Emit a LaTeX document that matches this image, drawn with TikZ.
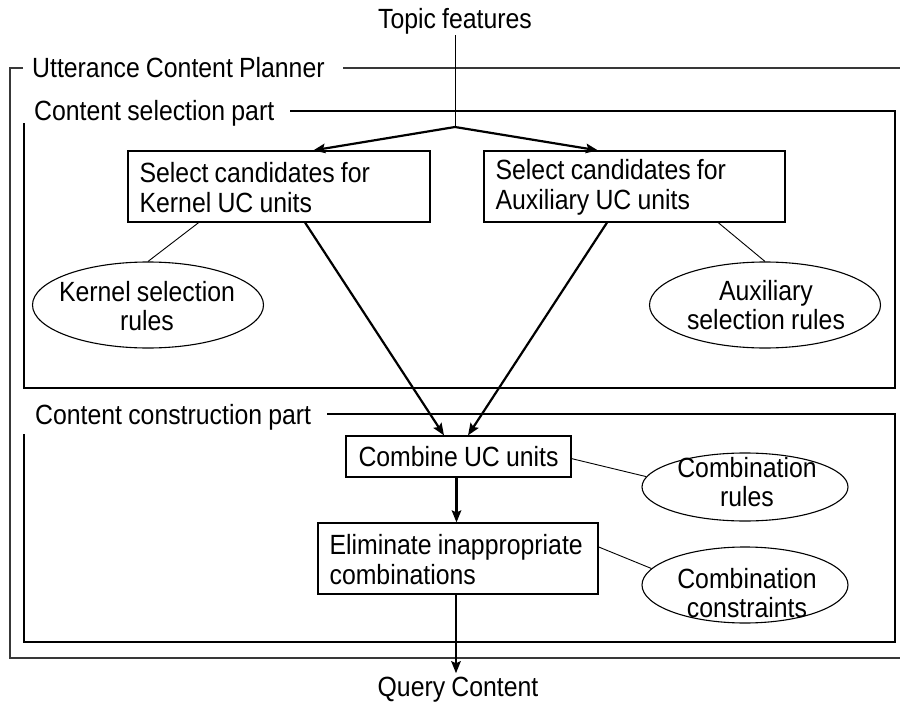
\documentclass[tikz,border=0pt]{standalone}
\usepackage{fontspec}
\setmainfont{Liberation Sans}[FakeStretch=0.893,WordSpace=0.893]
\usetikzlibrary{arrows.meta,calc,shapes.geometric}
\begin{document}
\begin{tikzpicture}[x=1pt,y=-1pt,
  every node/.style={font=\fontsize{27.8}{29.5}\selectfont},
  outerline/.style={line width=1.8pt,draw=black!78},
  frameline/.style={line width=1.5pt,draw=black},
  procbox/.style={draw,line width=1.2pt,inner sep=0pt,minimum height=71pt},
  boxtext/.style={inner sep=0pt,anchor=west,align=left},
  smallbox/.style={draw,line width=1.2pt,inner xsep=11pt,inner ysep=0pt,minimum height=41pt,minimum width=225pt},
  ruleell/.style={draw,ellipse,line width=1.1pt,inner sep=0pt},
  elltext/.style={align=center,inner sep=0pt},
  flow/.style={line width=2.2pt,-{Stealth[length=12pt,width=9.5pt,inset=2pt]}},
  assoc/.style={line width=0.9pt},
  framelab/.style={inner sep=0pt,anchor=base west}]
\useasboundingbox (0,0) rectangle (900,706);

% frames
\node[framelab] (uclab) at (32,78) {Utterance Content Planner};
\draw[outerline] (23,68) -- (10,68) -- (10,658) -- (903,658);
\draw[outerline] (343,68) -- (903,68);

\node[framelab] (sellab) at (34,121) {Content selection part};
\draw[frameline] (290,111) -- (895,111) -- (895,388) -- (24,388) -- (24,123);

\node[framelab] (conlab) at (35,424) {Content construction part};
\draw[frameline] (327,414) -- (895,414) -- (895,642) -- (24,642) -- (24,434);

% nodes
\node[inner sep=1pt] (topic) at (455,21) {Topic features};
\coordinate (br) at (455,127);

\node[procbox,minimum width=302pt] (lbox) at (279,186.5) {};
\node[boxtext] (lboxt) at ([xshift=12pt,yshift=-1pt]lbox.west) {Select candidates for\\Kernel UC units};
\node[procbox,minimum width=301pt] (rbox) at (634.5,186.5) {};
\node[boxtext] (rboxt) at ([xshift=12pt,yshift=-1pt]rbox.west) {Select candidates for\\Auxiliary UC units};

\node[ruleell,minimum width=231pt,minimum height=86pt] (kern) at (148,305) {};
\node[elltext] (kernt) at (147,306) {Kernel selection\\rules};
\node[ruleell,minimum width=231pt,minimum height=86pt] (aux) at (765,305) {};
\node[elltext] (auxt) at (766,305) {Auxiliary\\selection rules};

\node[smallbox] (comb) at (458.5,456.5) {Combine UC units};
\node[procbox,minimum width=280pt] (elim) at (458,558.5) {};
\node[boxtext] (elimt) at ([xshift=12pt,yshift=-1pt]elim.west) {Eliminate inappropriate\\combinations};

\node[ruleell,minimum width=206pt,minimum height=68pt] (crules) at (745,487) {};
\node[elltext] (crulest) at (747,482) {Combination\\rules};
\node[ruleell,minimum width=206pt,minimum height=76pt] (ccons) at (745,585) {};
\node[elltext] (cconst) at (747,593) {Combination\\constraints};

\node[inner sep=2pt] (query) at (458,690) {Query Content};

% connectors
\draw[assoc] (topic.south) -- (br);
\draw[flow] (br) -- ($(lbox.north west)!0.613!(lbox.north east)$);
\draw[flow] (br) -- ($(rbox.north west)!0.379!(rbox.north east)$);

\draw[flow] ($(lbox.south west)!0.586!(lbox.south east)$) -- ($(comb.north west)!0.436!(comb.north east)$);
\draw[flow] ($(rbox.south west)!0.409!(rbox.south east)$) -- ($(comb.north west)!0.542!(comb.north east)$);
\draw[flow] ([xshift=-2pt]comb.south) -- ([xshift=-2pt]comb.south |- elim.north);
\draw[flow] ([xshift=-2pt]elim.south) -- ([xshift=-2pt,yshift=2pt]elim.south |- query.north);

\draw[assoc] ($(lbox.south west)!0.235!(lbox.south east)$) -- (kern.north);
\draw[assoc] ($(rbox.south west)!0.777!(rbox.south east)$) -- (aux.north);
\draw[assoc] ($(comb.north east)!0.55!(comb.south east)$) -- (crules.174);
\draw[assoc] ($(elim.north east)!0.34!(elim.south east)$) -- (ccons.170);
\end{tikzpicture}
\end{document}
